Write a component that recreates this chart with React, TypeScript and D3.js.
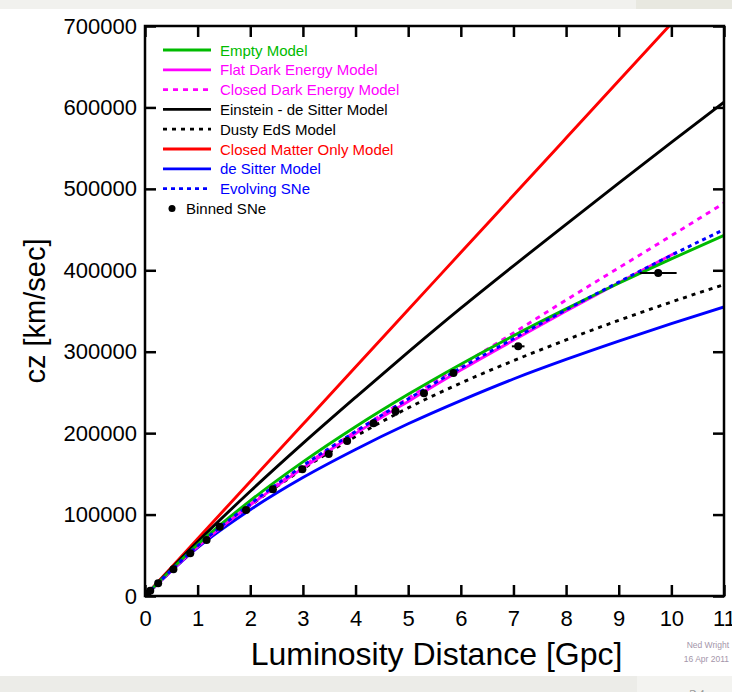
import React, { useRef, useEffect } from "react";
import * as d3 from "d3";

// Luminosity distance grid (Gpc) shared by most model curves
const distGpc = [0, 1, 2, 3, 4, 5, 6, 7, 8, 9, 10, 11];

// cz (km/sec) of each model, read at distGpc
const emptyModel = [0, 63300, 117100, 164700, 207900, 247700, 284700, 319600, 352600, 384000, 414000, 442900];
const closedDarkEnergy = [0, 61000, 112500, 159000, 202000, 243000, 283000, 323000, 363500, 403000, 442500, 482500];
const einsteinDeSitter = [0, 66700, 128600, 187400, 244000, 299500, 353500, 405500, 456500, 507000, 557000, 606500];
const dustyEdS = [0, 60500, 111200, 156000, 196000, 231000, 261500, 289000, 314500, 338500, 361000, 382500];
const deSitter = [0, 59500, 106000, 145500, 180000, 211500, 240000, 266500, 290500, 313000, 334500, 355000];
const evolvingSNe = [0, 61500, 113000, 160000, 202000, 242000, 280000, 316000, 351500, 385500, 418500, 450000];

// flat dark energy curve stops just past 10 Gpc
const flatDarkEnergyDist = [0, 1, 2, 3, 4, 5, 6, 7, 8, 9, 10, 10.1];
const flatDarkEnergy = [0, 60500, 111500, 157000, 199500, 239000, 277500, 314000, 350000, 384700, 418700, 422000];

// closed matter only runs off the top of the plot
const closedMatterDist = [0, 1, 2, 3, 4, 5, 6, 7, 8, 9, 10];
const closedMatterOnly = [0, 70300, 140600, 210900, 281200, 351500, 421800, 492100, 562400, 632700, 703000];

// Binned supernovae
const sneDist = [0.04, 0.1, 0.25, 0.54, 0.86, 1.17, 1.42, 1.92, 2.43, 2.99, 3.49, 3.84, 4.34, 4.76, 5.3, 5.86, 7.09, 9.75];
const sneCz = [2500, 6500, 15600, 32800, 52400, 68800, 85100, 105600, 131000, 155600, 174400, 190500, 212100, 227000, 249000, 273900, 306600, 396700];
const sneDistErr = [0, 0, 0, 0, 0, 0, 0, 0, 0, 0, 0, 0, 0, 0, 0, 0, 0.12, 0.35];
const sneCzErr = [0, 0, 0, 0, 0, 0, 0, 0, 0, 0, 0, 0, 4000, 5500, 0, 0, 0, 0];

const xTicks = [0, 1, 2, 3, 4, 5, 6, 7, 8, 9, 10, 11];
const yTicks = [0, 100000, 200000, 300000, 400000, 500000, 600000, 700000];

interface Series {
  label: string;
  color: string;
  dash: string | null;
  xs: number[];
  ys: number[];
}

const legendSeries: Series[] = [
  { label: "Empty Model", color: "#00bb00", dash: null, xs: distGpc, ys: emptyModel },
  { label: "Flat Dark Energy Model", color: "#ff00ff", dash: null, xs: flatDarkEnergyDist, ys: flatDarkEnergy },
  { label: "Closed Dark Energy Model", color: "#ff00ff", dash: "5,5", xs: distGpc, ys: closedDarkEnergy },
  { label: "Einstein - de Sitter Model", color: "#000000", dash: null, xs: distGpc, ys: einsteinDeSitter },
  { label: "Dusty EdS Model", color: "#000000", dash: "4,5", xs: distGpc, ys: dustyEdS },
  { label: "Closed Matter Only Model", color: "#ff0000", dash: null, xs: closedMatterDist, ys: closedMatterOnly },
  { label: "de Sitter Model", color: "#0000ff", dash: null, xs: distGpc, ys: deSitter },
  { label: "Evolving SNe", color: "#0000ff", dash: "4,4", xs: distGpc, ys: evolvingSNe },
];

// draw order in the plot (later on top)
const drawOrder = [5, 3, 6, 4, 2, 1, 0, 7];

const App: React.FC = () => {
  const svgRef = useRef<SVGSVGElement>(null);

  useEffect(() => {
    if (!svgRef.current) return;
    const svg = d3.select(svgRef.current);
    svg.selectAll("*").remove();

    const width = 732;
    const height = 692;
    const plot = { left: 145, right: 724, top: 26, bottom: 596 };

    svg.attr("width", width).attr("height", height);

    // slide background bands
    svg.append("rect").attr("width", width).attr("height", height).attr("fill", "#ffffff");
    svg.append("rect").attr("x", 0).attr("y", 0).attr("width", width).attr("height", 9).attr("fill", "#f1f1ee");
    svg.append("rect").attr("x", 636).attr("y", 0).attr("width", 96).attr("height", 9).attr("fill", "#e8e8e0");
    svg.append("rect").attr("x", 0).attr("y", 676).attr("width", width).attr("height", 16).attr("fill", "#ececE8");
    svg.append("rect").attr("x", 637).attr("y", 676).attr("width", 95).attr("height", 16).attr("fill", "#f3f3f0");
    svg.append("text")
      .attr("x", 697).attr("y", 701)
      .attr("text-anchor", "middle")
      .attr("font-size", 16)
      .attr("fill", "#999")
      .text("24");

    const xScale = d3.scaleLinear().domain([0, 11]).range([plot.left, plot.right]);
    const yScale = d3.scaleLinear().domain([0, 700000]).range([plot.bottom, plot.top]);

    const defs = svg.append("defs");
    defs.append("clipPath").attr("id", "plot-clip")
      .append("rect")
      .attr("x", plot.left).attr("y", plot.top)
      .attr("width", plot.right - plot.left).attr("height", plot.bottom - plot.top);

    const line = d3
      .line<[number, number]>()
      .x((d) => xScale(d[0]))
      .y((d) => yScale(d[1]))
      .curve(d3.curveMonotoneX);

    const curves = svg.append("g").attr("clip-path", "url(#plot-clip)");
    drawOrder.forEach((i) => {
      const s = legendSeries[i];
      const pts = s.xs.map((x, j) => [x, s.ys[j]] as [number, number]);
      curves.append("path")
        .datum(pts)
        .attr("fill", "none")
        .attr("stroke", s.color)
        .attr("stroke-width", 2.9)
        .attr("stroke-dasharray", s.dash)
        .attr("d", line);
    });

    // binned SNe with error bars
    const sne = sneDist.map((d, i) => ({ d, cz: sneCz[i], ed: sneDistErr[i], ec: sneCzErr[i] }));
    const pts = curves.append("g");
    sne.filter((p) => p.ed > 0).forEach((p) => {
      pts.append("line")
        .attr("x1", xScale(p.d - p.ed)).attr("x2", xScale(p.d + p.ed))
        .attr("y1", yScale(p.cz)).attr("y2", yScale(p.cz))
        .attr("stroke", "#000").attr("stroke-width", 2);
    });
    sne.filter((p) => p.ec > 0).forEach((p) => {
      pts.append("line")
        .attr("x1", xScale(p.d)).attr("x2", xScale(p.d))
        .attr("y1", yScale(p.cz - p.ec)).attr("y2", yScale(p.cz + p.ec))
        .attr("stroke", "#000").attr("stroke-width", 3.5);
    });
    pts.selectAll("circle")
      .data(sne)
      .enter()
      .append("circle")
      .attr("cx", (p) => xScale(p.d))
      .attr("cy", (p) => yScale(p.cz))
      .attr("r", 4)
      .attr("fill", "#000");

    // axes: ticks pointing inward on all four sides
    const font = "'Liberation Sans', Arial, Helvetica, sans-serif";
    const axisStyle = (g: d3.Selection<SVGGElement, unknown, null, undefined>) => {
      g.select(".domain").remove();
      g.selectAll(".tick line").attr("stroke", "#000").attr("stroke-width", 2.5);
      g.selectAll(".tick text").attr("fill", "#000").attr("font-size", 22).attr("font-family", font);
    };

    svg.append("g")
      .attr("transform", `translate(0,${plot.bottom})`)
      .call(d3.axisBottom(xScale).tickValues(xTicks).tickSize(-11).tickSizeOuter(0).tickPadding(14).tickFormat(d3.format("d")))
      .call(axisStyle);
    svg.append("g")
      .attr("transform", `translate(0,${plot.top})`)
      .call(d3.axisTop(xScale).tickValues(xTicks).tickSize(-11).tickSizeOuter(0).tickFormat(() => ""))
      .call(axisStyle);
    svg.append("g")
      .attr("transform", `translate(${plot.left},0)`)
      .call(d3.axisLeft(yScale).tickValues(yTicks).tickSize(-11).tickSizeOuter(0).tickPadding(8).tickFormat(d3.format("d")))
      .call(axisStyle);
    svg.append("g")
      .attr("transform", `translate(${plot.right},0)`)
      .call(d3.axisRight(yScale).tickValues(yTicks).tickSize(-11).tickSizeOuter(0).tickFormat(() => ""))
      .call(axisStyle);

    // frame
    svg.append("rect")
      .attr("x", plot.left).attr("y", plot.top)
      .attr("width", plot.right - plot.left).attr("height", plot.bottom - plot.top)
      .attr("fill", "none").attr("stroke", "#000").attr("stroke-width", 2.5);

    // axis titles
    svg.append("text")
      .attr("transform", `translate(45,${(plot.top + plot.bottom) / 2}) rotate(-90)`)
      .attr("text-anchor", "middle")
      .attr("font-family", font)
      .attr("font-size", 29)
      .text("cz [km/sec]");
    svg.append("text")
      .attr("x", (plot.left + plot.right) / 2 + 2)
      .attr("y", 665)
      .attr("text-anchor", "middle")
      .attr("font-family", font)
      .attr("font-size", 32)
      .text("Luminosity Distance [Gpc]");

    // credit
    const credit = svg.append("text")
      .attr("font-family", font)
      .attr("font-size", 8.5)
      .attr("fill", "#a496aa")
      .attr("text-anchor", "end");
    credit.append("tspan").attr("x", 729).attr("y", 648).text("Ned Wright");
    credit.append("tspan").attr("x", 729).attr("y", 662).text("16 Apr 2011");

    // legend
    const legend = svg.append("g").attr("font-family", font).attr("font-size", 15);
    legendSeries.forEach((s, i) => {
      const y = 50 + i * 19.8;
      legend.append("line")
        .attr("x1", 163).attr("x2", 211)
        .attr("y1", y).attr("y2", y)
        .attr("stroke", s.color)
        .attr("stroke-width", 2.8)
        .attr("stroke-dasharray", s.dash);
      legend.append("text")
        .attr("x", 220).attr("y", y + 5.5)
        .attr("fill", s.color)
        .text(s.label);
    });
    const ySne = 50 + legendSeries.length * 19.8;
    legend.append("circle").attr("cx", 172).attr("cy", ySne).attr("r", 3.5).attr("fill", "#000");
    legend.append("text").attr("x", 186).attr("y", ySne + 5.5).attr("fill", "#000").text("Binned SNe");
  }, []);

  return (
    <svg
      ref={svgRef}
      style={{ position: "absolute", left: 0, top: 0, display: "block" }}
    ></svg>
  );
};

export default App;
